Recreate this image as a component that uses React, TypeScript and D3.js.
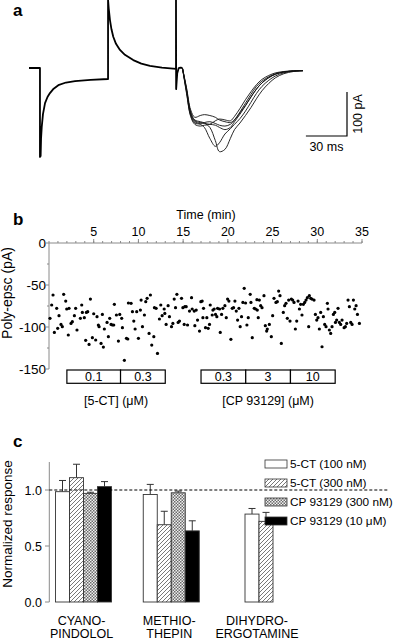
import React from "react";
import * as d3 from "d3";

// ---------- Panel a: traces (time ms, current pA) ----------
const mainTrace: [number, number][] = [
  [0, 0], [8, 0], [8, -202], [8.5, -200], [8.8, -160], [9.3, -134], [10.2, -105], [11.7, -80],
  [13.5, -66], [15.3, -57], [18, -47], [21.4, -39], [27, -33], [33.6, -30], [45, -27], [57.7, -25],
  [57.7, 155], [58.2, 135], [59.1, 109], [60.2, 88], [61.5, 71], [63.5, 55], [66.4, 41], [70, 30],
  [76.1, 18], [82, 10], [88.3, 5], [97, 1], [107.3, -2],
  [107.3, 155], [107.4, -48], [108.2, -12], [109.3, 0], [110.5, 1], [112, 0],
];
const epscTimes = [112, 115, 118, 121, 125, 128, 132, 136, 139, 143, 147, 150, 154, 158, 162, 166, 170, 175, 180, 186, 193, 200];
const epscT1 = [0, -50, -100, -118, -122, -125, -135, -165, -190, -185, -160, -140, -125, -108, -90, -70, -52, -35, -22, -13, -8, -6];
const epscT2 = [0, -55, -108, -125, -128, -135, -160, -178, -170, -150, -138, -128, -115, -98, -78, -58, -42, -28, -18, -11, -7, -6];
const epscT3 = [0, -45, -95, -112, -108, -106, -108, -112, -118, -122, -124, -118, -102, -85, -66, -48, -34, -22, -14, -9, -7, -6];
const epscT4 = [0, -52, -105, -122, -126, -124, -122, -126, -130, -132, -128, -118, -100, -80, -60, -42, -30, -20, -13, -9, -7, -6];
const epscT5 = [0, -48, -102, -120, -124, -126, -128, -130, -135, -140, -135, -122, -105, -86, -66, -48, -34, -22, -14, -9, -7, -6];
const epscT6 = [0, -58, -110, -128, -132, -130, -128, -120, -116, -118, -120, -110, -92, -72, -54, -38, -26, -17, -11, -8, -6, -6];
const epscTraces = [epscT1, epscT2, epscT3, epscT4, epscT5, epscT6];
const scaleBarMs = 30;
const scaleBarPA = 100;

// ---------- Panel b: poly-epsc vs time ----------
const timeMin = [
  0.11, 0.45, 0.30, 0.86, 1.12, 0.60, 0.97, 1.34, 1.49, 1.64, 1.87, 1.98, 2.16, 2.24, 2.46, 2.61, 2.84, 2.98, 3.13, 3.51,
  3.66, 3.73, 3.95, 4.18, 4.33, 4.10, 4.48, 4.63, 4.85, 5.0, 5.22, 5.37, 5.52, 5.6, 5.82, 5.97, 6.08, 6.19, 6.49, 6.64,
  6.79, 6.94, 7.09, 7.24, 7.31, 7.54, 7.76, 7.91, 8.13, 8.21, 8.43, 8.66, 8.81, 8.88, 9.18, 9.33, 9.48, 9.63, 9.81, 10.0,
  10.22, 10.30, 10.45, 10.67, 10.82, 10.97, 11.19, 11.34, 11.49, 11.72, 11.79,
  12.13, 11.98, 12.35, 12.50, 12.65, 12.88, 12.95, 13.10, 13.32, 13.47, 13.70, 13.85, 14.0, 14.15, 14.30, 14.44, 14.59,
  14.82, 14.97, 15.12, 15.19, 15.34, 15.49, 15.71, 15.94, 16.01, 16.24, 16.31, 16.46, 16.61, 16.83, 16.98, 17.13, 17.21,
  17.28, 17.50, 17.65, 17.80, 17.95, 18.03, 18.25, 18.33, 18.47, 18.62, 18.77, 18.85, 19.07, 19.15, 19.30, 19.44, 19.67,
  19.82, 19.97, 20.12, 20.34, 20.49, 20.64, 20.79, 20.94, 21.09, 21.24, 21.38, 21.53, 21.68, 21.83, 21.98, 22.13, 22.28,
  22.50, 22.58, 22.73, 22.95, 23.10, 23.25, 23.40,
  23.29, 23.52, 23.67, 23.82, 24.04, 24.19, 24.34, 24.41, 24.64, 24.86, 25.01, 25.16, 25.38, 25.53, 25.68, 25.83, 25.98,
  26.20, 26.35, 26.50, 26.65, 26.80, 26.95, 27.10, 27.25, 27.40, 27.55, 27.70, 27.85, 28.0, 28.14, 28.29, 28.44, 28.59,
  28.74, 28.89, 29.04, 29.11, 29.26, 29.41, 29.64, 29.79, 29.94, 30.08, 30.23, 30.38, 30.53, 30.68, 30.83, 30.98, 31.13,
  31.20, 31.35, 31.50, 31.65, 31.80, 31.95, 32.03, 32.17, 32.32, 32.47, 32.62, 32.77, 33.0, 33.14, 33.29, 33.44, 33.59,
  33.74, 33.89, 34.04, 34.19, 34.34, 34.49, 34.71,
];
const epscAmp = [
  -89.7, -61.9, -73.8, -77.8, -86.5, -106.4, -101.6, -96.9, -99.6, -61.1, -69.1, -78.6, -109.5, -77.8, -95.7, -93.7, -86.5, -77.8, -103.6, -89.7,
  -73.8, -82.6, -88.9, -82.6, -81.8, -115.9, -120.7, -66.7, -112.7, -84.2, -115.5, -87.7, -97.6, -99.6, -119.5, -85.0, -123.9, -102.4, -94.5, -111.5,
  -89.7, -96.9, -97.6, -97.6, -73.0, -85.7, -116.7, -85.0, -89.7, -100.8, -139.7, -113.5, -114.3, -71.4, -71.8, -81.8, -92.9, -102.4, -81.8, -113.5,
  -79.8, -67.9, -99.6, -85.7, -69.9, -65.9, -107.6, -61.9, -121.5, -111.5, -77.0,
  -131.4, -77.8, -90.5, -73.8, -86.5, -78.6, -83.8, -96.9, -74.6, -87.7, -99.6, -95.7, -66.7, -77.0, -61.1, -94.5, -92.9,
  -65.9, -77.0, -96.9, -75.8, -75.8, -97.6, -81.0, -65.1, -78.6, -81.0, -98.4, -79.8, -91.7, -104.8, -69.9, -69.1, -88.9,
  -77.8, -100.8, -88.9, -101.6, -96.9, -73.8, -85.7, -79.8, -78.6, -85.0, -87.7, -77.8, -78.6, -106.4, -85.0, -77.8, -74.6,
  -88.9, -66.7, -69.1, -114.7, -77.8, -77.0, -69.1, -81.0, -91.7, -77.8, -99.6, -87.7, -70.7, -54.0, -71.4, -97.6, -88.9,
  -61.1, -70.7, -112.7, -77.8, -78.6, -67.5, -88.9,
  -79.8, -67.9, -74.6, -77.0, -62.7, -98.4, -104.8, -102.4, -96.9, -111.5, -86.5, -65.9, -70.7, -69.9, -57.2, -62.7, -119.5,
  -82.6, -74.6, -71.8, -89.7, -67.9, -92.9, -66.7, -67.9, -70.7, -102.4, -92.9, -69.1, -78.6, -73.0, -85.7, -73.0, -70.7,
  -67.9, -65.1, -99.6, -62.7, -65.9, -66.7, -67.9, -85.0, -91.7, -88.9, -102.4, -82.6, -123.5, -87.7, -96.9, -99.6, -71.8,
  -78.6, -103.6, -107.6, -99.6, -85.0, -82.6, -94.5, -91.7, -77.8, -94.5, -96.9, -91.7, -100.8, -99.6, -95.7, -67.9, -75.8,
  -94.5, -96.9, -67.9, -78.6, -74.6, -85.0, -95.7,
];
const timeTicks = [5, 10, 15, 20, 25, 30, 35];
const timeMinorTicks = d3.range(0, 36, 1);
const ampTicks = [0, -50, -100, -150];
const ampMinorTicks = [-25, -75, -125];
const ctLabels = ["0.1", "0.3"];
const ctStart = [2, 8];
const ctEnd = [8, 13];
const cpLabels = ["0.3", "3", "10"];
const cpStart = [17, 22, 27];
const cpEnd = [22, 27, 32];
const ctTitle = "[5-CT] (\u03bcM)";
const cpTitle = "[CP 93129] (\u03bcM)";

// ---------- Panel c: normalized responses ----------
const groupNames = ["CYANO-PINDOLOL", "METHIO-THEPIN", "DIHYDRO-ERGOTAMINE"];
const groupLine1 = ["CYANO-", "METHIO-", "DIHYDRO-"];
const groupLine2 = ["PINDOLOL", "THEPIN", "ERGOTAMINE"];
const seriesNames = ["5-CT (100 nM)", "5-CT (300 nM)", "CP 93129 (300 nM)", "CP 93129 (10 \u03bcM)"];
const cyanoMean = [0.985, 1.11, 0.97, 1.03];
const cyanoErr = [0.1, 0.12, 0.01, 0.045];
const methioMean = [0.96, 0.69, 0.975, 0.635];
const methioErr = [0.09, 0.12, 0.015, 0.09];
const dihydroMean = [0.785, 0.72];
const dihydroErr = [0.05, 0.08];
const groupMeans = [cyanoMean, methioMean, dihydroMean];
const groupErrs = [cyanoErr, methioErr, dihydroErr];
const normTicks = [0, 0.5, 1.0];

const FONT = "'Liberation Sans', Arial, Helvetica, sans-serif";
const AXIS = "#8a8a8a";

export default function App() {
  // panel a scales
  const xA = d3.scaleLinear().domain([0, 200]).range([29, 303]);
  const yA = d3.scaleLinear().domain([0, 100]).range([68, 24]);
  const lineMain = d3.line<[number, number]>().x((d) => xA(d[0])).y((d) => yA(d[1]));
  const lineEpsc = d3
    .line<number>()
    .x((_, i) => xA(epscTimes[i]))
    .y((d) => yA(d))
    .curve(d3.curveCatmullRom);
  const sbX = 347;
  const sbY = 136;
  const sbW = xA(scaleBarMs) - xA(0);
  const sbH = yA(0) - yA(scaleBarPA);

  // panel b scales
  const xB = d3.scaleLinear().domain([0, 35]).range([49, 362]);
  const yB = d3.scaleLinear().domain([-150, 0]).range([369, 243]);
  const boxTop = 370;
  const boxH = 13.3;

  // panel c scales
  const yC = d3.scaleLinear().domain([0, 1.25]).range([602, 462]);
  const xG = d3.scalePoint<string>().domain(groupNames).range([83.5, 259]);
  const barW = 14;

  const fills = ["#ffffff", "url(#hatch)", "url(#checker)", "#000000"];

  return (
    <svg
      width={405}
      height={640}
      style={{ position: "absolute", left: 0, top: 0, background: "#fff" }}
      fontFamily={FONT}
    >
      <defs>
        <pattern id="hatch" patternUnits="userSpaceOnUse" width={4} height={4}>
          <rect width={4} height={4} fill="#fff" />
          <path d="M-1,1 l2,-2 M0,4 l4,-4 M3,5 l2,-2" stroke="#555" strokeWidth={0.8} />
        </pattern>
        <pattern id="checker" patternUnits="userSpaceOnUse" width={3} height={3}>
          <rect width={3} height={3} fill="#f0f0f0" />
          <rect x={0} y={0} width={1.5} height={1.5} fill="#6a6a6a" />
          <rect x={1.5} y={1.5} width={1.5} height={1.5} fill="#6a6a6a" />
        </pattern>
      </defs>
      <rect width={405} height={640} fill="#fff" />

      {/* ---------- Panel a ---------- */}
      <text x={13} y={16} fontSize={17} fontWeight="bold">a</text>
      {epscTraces.map((tr, i) => (
        <path key={i} d={lineEpsc(tr) || ""} fill="none" stroke="#111" strokeWidth={0.9} />
      ))}
      <path d={lineMain(mainTrace) || ""} fill="none" stroke="#000" strokeWidth={1.8} strokeLinejoin="round" />
      <path
        d={`M${sbX - sbW},${sbY} L${sbX},${sbY} L${sbX},${sbY - sbH}`}
        fill="none"
        stroke="#000"
        strokeWidth={1.2}
      />
      <text x={sbX - sbW / 2} y={151} fontSize={12.5} textAnchor="middle">30 ms</text>
      <text
        transform={`translate(${sbX + 15},${sbY - sbH / 2}) rotate(-90)`}
        fontSize={12.5}
        textAnchor="middle"
      >
        100 pA
      </text>

      {/* ---------- Panel b ---------- */}
      <text x={13} y={225} fontSize={17} fontWeight="bold">b</text>
      <text x={206} y={219} fontSize={12.5} textAnchor="middle">Time (min)</text>
      <line x1={xB(0)} x2={xB(35)} y1={yB(0)} y2={yB(0)} stroke={AXIS} strokeWidth={1} />
      {timeMinorTicks.map((t) => (
        <line key={"mt" + t} x1={xB(t)} x2={xB(t)} y1={yB(0)} y2={yB(0) - 2} stroke={AXIS} strokeWidth={1} />
      ))}
      {timeTicks.map((t) => (
        <g key={"tt" + t}>
          <line x1={xB(t)} x2={xB(t)} y1={yB(0)} y2={yB(0) - 4} stroke={AXIS} strokeWidth={1} />
          <text x={xB(t)} y={236} fontSize={12.5} textAnchor="middle">{t}</text>
        </g>
      ))}
      <line x1={xB(0)} x2={xB(0)} y1={yB(0)} y2={yB(-150)} stroke={AXIS} strokeWidth={1} />
      {ampMinorTicks.map((v) => (
        <line key={"am" + v} x1={xB(0) - 2} x2={xB(0)} y1={yB(v)} y2={yB(v)} stroke={AXIS} strokeWidth={1} />
      ))}
      {ampTicks.map((v) => (
        <g key={"at" + v}>
          <line x1={xB(0) - 3} x2={xB(0)} y1={yB(v)} y2={yB(v)} stroke={AXIS} strokeWidth={1} />
          <text x={xB(0) - 3} y={yB(v) + 4.6} fontSize={13.5} textAnchor="end">{String(v)}</text>
        </g>
      ))}
      <text transform={`translate(12,${293}) rotate(-90)`} fontSize={14} textAnchor="middle">
        Poly-epsc (pA)
      </text>
      {timeMin.map((t, i) => (
        <circle key={"p" + i} cx={xB(t)} cy={yB(epscAmp[i])} r={1.6} fill="#000" />
      ))}
      {ctLabels.map((l, i) => (
        <g key={"ct" + i}>
          <rect x={xB(ctStart[i])} y={boxTop} width={xB(ctEnd[i]) - xB(ctStart[i])} height={boxH} fill="#fff" stroke="#000" strokeWidth={1.2} />
          <text x={(xB(ctStart[i]) + xB(ctEnd[i])) / 2} y={boxTop + 11} fontSize={12.5} textAnchor="middle">{l}</text>
        </g>
      ))}
      {cpLabels.map((l, i) => (
        <g key={"cp" + i}>
          <rect x={xB(cpStart[i])} y={boxTop} width={xB(cpEnd[i]) - xB(cpStart[i])} height={boxH} fill="#fff" stroke="#000" strokeWidth={1.2} />
          <text x={(xB(cpStart[i]) + xB(cpEnd[i])) / 2} y={boxTop + 11} fontSize={12.5} textAnchor="middle">{l}</text>
        </g>
      ))}
      <text x={(xB(ctStart[0]) + xB(ctEnd[1])) / 2} y={405} fontSize={12.5} textAnchor="middle">{ctTitle}</text>
      <text x={(xB(cpStart[0]) + xB(cpEnd[2])) / 2} y={405} fontSize={12.5} textAnchor="middle">{cpTitle}</text>

      {/* ---------- Panel c ---------- */}
      <text x={13} y={447} fontSize={17} fontWeight="bold">c</text>
      <line x1={49.3} x2={49.3} y1={yC(1.25)} y2={yC(0)} stroke={AXIS} strokeWidth={1} />
      {normTicks.map((v) => (
        <g key={"nt" + v}>
          <line x1={45} x2={49.3} y1={yC(v)} y2={yC(v)} stroke={AXIS} strokeWidth={1} />
          <text x={42} y={yC(v) + 4.5} fontSize={12.5} textAnchor="end">{v.toFixed(1)}</text>
        </g>
      ))}
      <text transform={`translate(12,${524}) rotate(-90)`} fontSize={13.5} textAnchor="middle">
        Normalized response
      </text>
      {groupNames.map((g, gi) => {
        const means = groupMeans[gi];
        const errs = groupErrs[gi];
        const n = means.length;
        const inner = d3
          .scaleBand<number>()
          .domain(d3.range(n))
          .range([-(n * barW) / 2, (n * barW) / 2]);
        const cx = xG(g) as number;
        return (
          <g key={g}>
            {means.map((m, i) => {
              const x0 = cx + (inner(i) as number);
              const xc = x0 + barW / 2;
              return (
                <g key={i}>
                  <line x1={xc} x2={xc} y1={yC(m)} y2={yC(m + errs[i])} stroke="#333" strokeWidth={1} />
                  <line x1={xc - 3.5} x2={xc + 3.5} y1={yC(m + errs[i])} y2={yC(m + errs[i])} stroke="#333" strokeWidth={1} />
                  <rect x={x0} y={yC(m)} width={barW} height={yC(0) - yC(m)} fill={fills[i]} stroke="#333" strokeWidth={0.9} />
                </g>
              );
            })}
            <text x={cx - 2} y={625} fontSize={12.5} textAnchor="middle">{groupLine1[gi]}</text>
            <text x={cx - 2} y={638} fontSize={12.5} textAnchor="middle">{groupLine2[gi]}</text>
          </g>
        );
      })}
      <line x1={49.3} x2={388} y1={yC(1)} y2={yC(1)} stroke="#000" strokeWidth={1.2} strokeDasharray="3,2" />
      {seriesNames.map((s, i) => {
        const cy = 464 + i * 19;
        return (
          <g key={s}>
            <rect x={265} y={cy - 4} width={22} height={8} fill={fills[i]} stroke="#333" strokeWidth={0.8} />
            <text x={290} y={cy + 4.2} fontSize={11.8}>{s}</text>
          </g>
        );
      })}
    </svg>
  );
}
